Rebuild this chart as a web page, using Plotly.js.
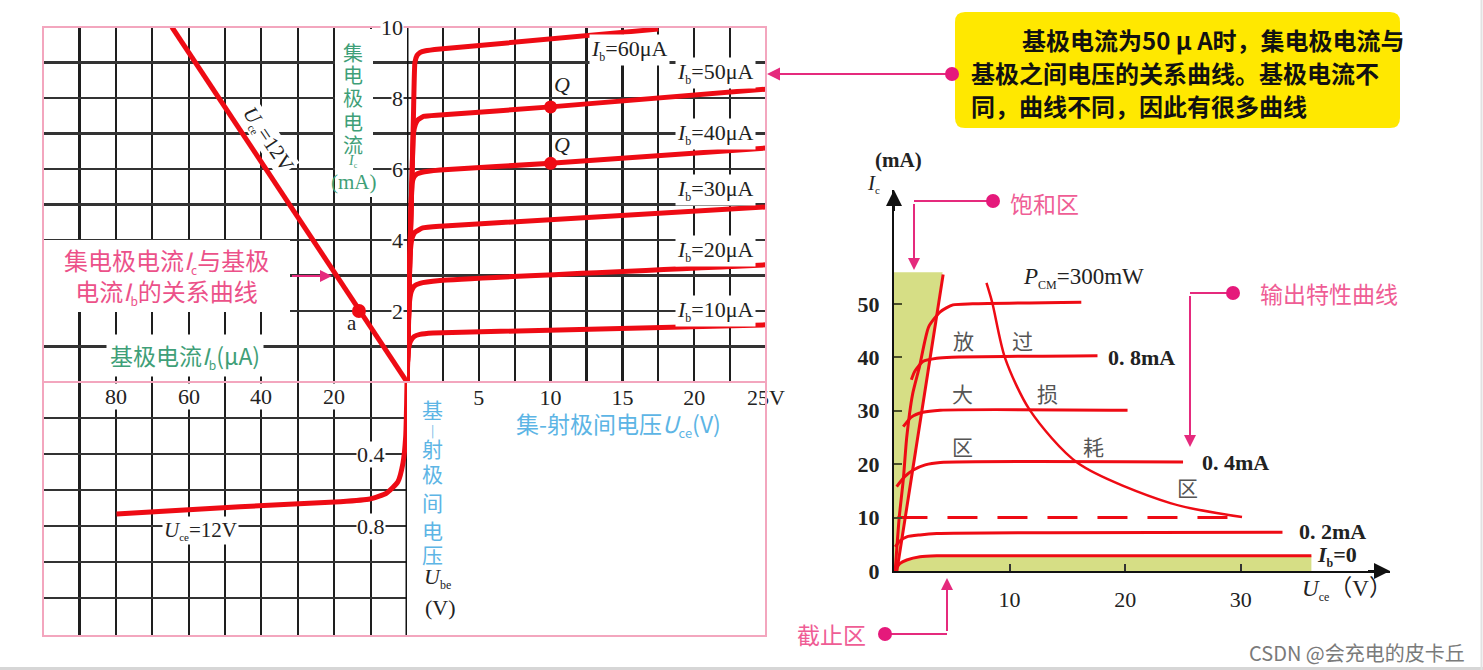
<!DOCTYPE html>
<html><head><meta charset="utf-8">
<script src="https://cdn.plot.ly/plotly-3.0.1.min.js"></script>
<style>html,body{margin:0;padding:0;background:#fff;}#chart{width:1483px;height:670px;}</style>
</head><body><div id="chart"></div>
<script>
// ================= DATA =================
// Left chart, upper-right quadrant: output characteristics Ic(mA) vs Uce(V)
const ibLevels = ['10','20','30','40','50','60'];
const uceIb10 = [0, 0.1, 0.25, 0.5, 0.9, 1.8, 25];
const icIb10  = [0, 0.9, 1.15, 1.28, 1.34, 1.38, 1.61];
const uceIb20 = [0, 0.07, 0.16, 0.3, 0.5, 0.9, 2.3, 25];
const icIb20  = [0, 1.1, 2.2, 2.55, 2.7, 2.78, 2.86, 3.3];
const uceIb30 = [0, 0.07, 0.2, 0.35, 0.55, 1.1, 2.3, 25];
const icIb30  = [0, 1.1, 3.5, 4.05, 4.22, 4.34, 4.39, 4.93];
const uceIb40 = [0, 0.07, 0.2, 0.35, 0.5, 0.7, 1.05, 2.3, 10, 25];
const icIb40  = [0, 1.1, 3.5, 5.6, 5.78, 5.86, 5.91, 5.97, 6.16, 6.59];
const uceIb50 = [0, 0.07, 0.2, 0.35, 0.45, 0.58, 0.75, 1.15, 2.3, 10, 25];
const icIb50  = [0, 1.1, 3.5, 5.8, 7.0, 7.25, 7.38, 7.48, 7.52, 7.75, 8.25];
const uceIb60 = [0, 0.07, 0.2, 0.35, 0.45, 0.55, 0.7, 0.9, 1.3, 2.3, 17.5];
const icIb60  = [0, 1.1, 3.5, 5.8, 7.5, 9.0, 9.2, 9.28, 9.33, 9.38, 9.94];
const qUce = [10, 10];
const qIc  = [7.75, 6.16];
// upper-left quadrant: Ic vs Ib (Uce = 12V)
const transferIb = [0, 64.6];
const transferIc = [0, 10];
const pointAIb = [13.2];
const pointAIc = [2.0];
// lower-left quadrant: input characteristic Ib(uA) vs Ube(V)
const inputIb  = [79.8, 45.9, 18.4, 10.2, 5.6, 2.5, 1.1, 0.36, 0.1, 0];
const inputUbe = [0.733, 0.693, 0.665, 0.65, 0.617, 0.554, 0.45, 0.304, 0.117, 0];
// tick labels
const uceTickVals = [5, 10, 15, 20, 25];
const uceTickText = ['5', '10', '15', '20', '25V'];
const ibTickVals = [80, 60, 40, 20];
const icTickVals = [10, 8, 6, 4, 2];
const ubeTickVals = [0.4, 0.8];

// Right chart: output characteristic regions (Uce V, Ic mA)
const rUceIb0 = [0.09, 0.5, 1.1, 2.25, 3.7, 36.1];
const rIcIb0  = [0.2, 1.4, 2.06, 2.68, 2.85, 2.85];
const rUce02 = [0.1, 0.5, 1.1, 2.25, 3.7, 33.6];
const rIc02  = [4.5, 5.6, 6.4, 6.75, 7.0, 7.25];
const rUce04 = [0.23, 0.95, 1.67, 2.7, 4.0, 25.0];
const rIc04  = [15.8, 17.7, 18.9, 19.85, 20.3, 20.4];
const rUce06 = [0.8, 1.5, 2.5, 4.0, 20.2];
const rIc06  = [27.0, 28.8, 29.7, 30.1, 30.1];
const rUce08 = [1.5, 1.8, 2.5, 3.7, 5.0, 17.6];
const rIc08  = [35.8, 37.4, 39.2, 39.8, 40.0, 40.3];
const rUce10 = [0.1, 0.45, 0.8, 1.1, 1.6, 2.2, 3.0, 4.0, 5.1, 6.8, 16.2];
const rIc10  = [0, 10, 17, 25, 33, 38.2, 45.7, 48.5, 49.8, 50.0, 50.3];
const rUceSat = [0.25, 4.25];
const rIcSat  = [0, 55.5];
const rUceSatFill = [0, 0, 4.2, 0.25];
const rIcSatFill  = [0, 55.9, 55.9, 0];
const rUceDash = [0.3, 29.2];
const rIcDash  = [10, 10];
const rUcePcm = [8.0, 8.5, 9.6, 11.75, 15.9, 23.9, 30.1];
const rIcPcm  = [53.9, 50.2, 39.9, 30.1, 20.2, 12.7, 10.1];
const rIcTicks = [0, 10, 20, 30, 40, 50];
const rUceTicks = [10, 20, 30];

// ================= STYLE / LAYOUT HELPERS =================
const W = 1483, H = 670;
const PX = v => v / W;
const PY = v => 1 - v / H;
const SERIF = '"Liberation Serif", "Noto Sans CJK SC", serif';
const CJK = '"Noto Sans CJK SC", sans-serif';
const RED = '#ee0b14';
const GREEN = '#3f9f78';
const BLUE = '#5db5e5';
const PINK_T = '#ec5189';
const PINK_C = '#e52a7d';
const BORDER = '#f3a6be';
const FILL = '#d6de85';
const sub = (t, px) => '<sub><span style="font-size:' + px + 'px">' + t + '</span></sub>';

const traces = [];
function line(x, y, xa, ya, color, width, extra) {
  traces.push(Object.assign({x, y, xaxis: xa, yaxis: ya, mode: 'lines',
    line: {color, width}, cliponaxis: false, hoverinfo: 'skip'}, extra || {}));
}
// left chart vertical axis (Uce = 0)
line([0, 0], [0, 10], 'x', 'y', '#111', 3);
line([0, 0], [0, 1.411], 'x3', 'y3', '#111', 3);
// output curves
const outU = [uceIb10, uceIb20, uceIb30, uceIb40, uceIb50, uceIb60];
const outI = [icIb10, icIb20, icIb30, icIb40, icIb50, icIb60];
outU.forEach((u, i) => line(u, outI[i], 'x', 'y', RED, 5, {line: {color: RED, width: 5, shape: 'spline', smoothing: 0.4}}));
traces.push({x: qUce, y: qIc, xaxis: 'x', yaxis: 'y', mode: 'markers', marker: {color: RED, size: 13}, hoverinfo: 'skip'});
// transfer line
line(transferIb, transferIc, 'x2', 'y2', RED, 5);
traces.push({x: pointAIb, y: pointAIc, xaxis: 'x2', yaxis: 'y2', mode: 'markers', marker: {color: RED, size: 14}, hoverinfo: 'skip'});
// input curve
line(inputIb, inputUbe, 'x3', 'y3', RED, 5, {line: {color: RED, width: 5, shape: 'spline', smoothing: 0.5}});

// right chart
traces.push({x: rUceSatFill, y: rIcSatFill, xaxis: 'x4', yaxis: 'y4', mode: 'lines', fill: 'toself',
  fillcolor: FILL, line: {width: 0}, hoverinfo: 'skip'});
traces.push({x: rUceIb0, y: rIcIb0, xaxis: 'x4', yaxis: 'y4', mode: 'lines', fill: 'tozeroy',
  fillcolor: FILL, line: {color: RED, width: 3, shape: 'spline', smoothing: 0.6}, hoverinfo: 'skip'});
[[rUce02, rIc02], [rUce04, rIc04], [rUce06, rIc06], [rUce08, rIc08], [rUce10, rIc10]].forEach(p =>
  line(p[0], p[1], 'x4', 'y4', RED, 3, {line: {color: RED, width: 3, shape: 'spline', smoothing: 0.6}}));
line(rUceSat, rIcSat, 'x4', 'y4', RED, 3);
line(rUceDash, rIcDash, 'x4', 'y4', RED, 3, {line: {color: RED, width: 3, dash: '30px,20px'}});
line(rUcePcm, rIcPcm, 'x4', 'y4', RED, 2.5, {line: {color: RED, width: 2.5, shape: 'spline', smoothing: 0.8}});

const gridX = {showgrid: true, gridcolor: '#1e1e1e', gridwidth: 2.2, zeroline: false, showline: false, ticks: ''};
const gridY = {showgrid: true, gridcolor: '#333', gridwidth: 2.6, zeroline: false, showline: false, ticks: '', showticklabels: false};

const ibGrid = [10, 20, 30, 40, 50, 60, 70, 80, 90];
const layout = {
  width: W, height: H, margin: {l: 0, r: 0, t: 0, b: 0},
  paper_bgcolor: 'white', plot_bgcolor: 'white', showlegend: false,
  xaxis: Object.assign({}, gridX, {domain: [PX(407), PX(766)], range: [0, 25], anchor: 'y',
    tickvals: [2.5, 5, 7.5, 10, 12.5, 15, 17.5, 20, 22.5, 25],
    ticktext: [' ', uceTickText[0], ' ', uceTickText[1], ' ', uceTickText[2], ' ', uceTickText[3], ' ', uceTickText[4]],
    tickfont: {family: SERIF, size: 22, color: '#222'}, ticklabelstandoff: 0}),
  yaxis: Object.assign({}, gridY, {domain: [PY(382), PY(27)], range: [0, 10], anchor: 'x', tickvals: [1,2,3,4,5,6,7,8,9]}),
  xaxis2: Object.assign({}, gridX, {domain: [PX(43), PX(407)], range: [100, 0], anchor: 'y2', tickvals: ibGrid, showticklabels: false}),
  yaxis2: Object.assign({}, gridY, {domain: [PY(382), PY(27)], range: [0, 10], anchor: 'x2', tickvals: [1,2,3,4,5,6,7,8,9]}),
  xaxis3: Object.assign({}, gridX, {domain: [PX(43), PX(407)], range: [100, 0], anchor: 'y3', tickvals: ibGrid, showticklabels: false}),
  yaxis3: Object.assign({}, gridY, {domain: [PY(636), PY(382)], range: [1.411, 0], anchor: 'x3', tickvals: [0.2, 0.4, 0.6, 0.8, 1.0, 1.2]}),
  xaxis4: {domain: [PX(894), PX(1390)], range: [0, 42.9], anchor: 'y4', showgrid: false, zeroline: false,
    showline: true, linecolor: '#111', linewidth: 2, ticks: 'inside', ticklen: 7, tickwidth: 2, tickcolor: '#333',
    tickvals: rUceTicks, tickfont: {family: SERIF, size: 22, color: '#222'}, ticklabelstandoff: 8},
  yaxis4: {domain: [PY(571), PY(190)], range: [0, 71.3], anchor: 'x4', showgrid: false, zeroline: false,
    showline: true, linecolor: '#111', linewidth: 2, ticks: 'inside', ticklen: 8, tickwidth: 2, tickcolor: '#4a4f2a',
    tickvals: rIcTicks, tickfont: {family: SERIF, size: 22, color: '#222', weight: 'bold'}, ticklabelstandoff: 8},
  shapes: [], annotations: []
};
const S = layout.shapes, A = layout.annotations;
function pline(x0, y0, x1, y1, color, width, layer) {
  S.push({type: 'line', xref: 'paper', yref: 'paper', x0: PX(x0), y0: PY(y0), x1: PX(x1), y1: PY(y1),
    line: {color, width}, layer: layer || 'above'});
}
function prect(x0, y0, x1, y1, fill, lineColor, lw, layer) {
  S.push({type: 'rect', xref: 'paper', yref: 'paper', x0: PX(x0), y0: PY(y1), x1: PX(x1), y1: PY(y0),
    fillcolor: fill, line: {color: lineColor || 'rgba(0,0,0,0)', width: lw || 0}, layer: layer || 'above'});
}
function dot(cx, cy, r, color) {
  S.push({type: 'circle', xref: 'paper', yref: 'paper', x0: PX(cx - r), x1: PX(cx + r), y0: PY(cy + r), y1: PY(cy - r),
    fillcolor: color, line: {width: 0}, layer: 'above'});
}
function ptext(text, x, y, font, extra) {
  A.push(Object.assign({xref: 'paper', yref: 'paper', x: PX(x), y: PY(y), text, showarrow: false, font,
    xanchor: 'center', yanchor: 'middle'}, extra || {}));
}
function arrow(tx, ty, ax, ay, color, width, size) {
  A.push({xref: 'paper', yref: 'paper', x: PX(tx), y: PY(ty), ax, ay, text: ' ', showarrow: true,
    arrowhead: 2, arrowsize: size || 1.3, arrowwidth: width || 1.5, arrowcolor: color, standoff: 0, font: {size: 2}});
}

// ---- left chart frame ----
prect(43, 27, 766, 636, 'rgba(0,0,0,0)', BORDER, 2);
pline(43, 382, 766, 382, BORDER, 2);
prect(335, 29, 373, 197, 'white');
prect(44, 240, 290, 312, 'white');

// tick labels (left chart)
const numFont = {family: SERIF, size: 22, color: '#222'};
icTickVals.forEach(v => A.push({xref: 'x', yref: 'y', x: 0, y: v, text: String(v), showarrow: false,
  xanchor: 'right', yanchor: 'middle', xshift: -3, font: numFont, bgcolor: 'white', borderpad: 0}));
ubeTickVals.forEach(v => A.push({xref: 'x3', yref: 'y3', x: 0, y: v, text: v.toFixed(1), showarrow: false,
  xanchor: 'right', yanchor: 'middle', xshift: -21, font: numFont, bgcolor: 'white', borderpad: 0}));
ibTickVals.forEach(v => A.push({xref: 'x3', yref: 'paper', x: v, y: PY(397), text: String(v), showarrow: false,
  xanchor: 'center', yanchor: 'middle', font: numFont, bgcolor: 'white', borderpad: 0}));

// curve labels
const lblPos = [[21.45, 2.0], [21.45, 3.69], [21.45, 5.41], [21.45, 7.0], [21.45, 8.70], [15.5, 9.35]];
ibLevels.forEach((lv, i) => A.push({xref: 'x', yref: 'y', x: lblPos[i][0], y: lblPos[i][1],
  text: '<i>I</i>' + sub('b', 12) + '=' + lv + 'μA', showarrow: false, font: {family: SERIF, size: 22, color: '#222'},
  bgcolor: 'white', borderpad: 1}));
[[10.8, 8.37], [10.8, 6.68]].forEach(p => A.push({xref: 'x', yref: 'y', x: p[0], y: p[1], text: '<i>Q</i>',
  showarrow: false, font: {family: SERIF, size: 22, color: '#222'}}));
A.push({xref: 'x2', yref: 'y2', x: 15.1, y: 1.66, text: 'a', showarrow: false, font: {family: SERIF, size: 21, color: '#222'}});
A.push({xref: 'x2', yref: 'y2', x: 38.2, y: 6.82, text: '<i>U</i>' + sub('ce', 11) + '=12V', textangle: 56, showarrow: false,
  font: {family: SERIF, size: 21, color: '#222'}, bgcolor: 'white', borderpad: 0});
ptext('<i>U</i>' + sub('ce', 11) + '=12V', 200, 530, {family: SERIF, size: 21, color: '#222'}, {bgcolor: 'white', borderpad: 1});

// green Ic title (vertical)
['集', '电', '极', '电', '流'].forEach((c, i) => ptext(c, 353, [52, 74, 97, 121, 144][i], {family: CJK, size: 20, color: GREEN}));
ptext('<i>I</i>' + sub('c', 8), 353, 162, {family: SERIF, size: 14, color: GREEN});
ptext('(mA)', 354, 182, {family: SERIF, size: 21, color: GREEN});
// green Ib title
ptext('基极电流<i>I</i>' + sub('b', 12) + '(μA)', 185, 355, {family: CJK, size: 23, color: GREEN}, {bgcolor: 'white', borderpad: 3});
// pink annotation
ptext('集电极电流<i>I</i>' + sub('c', 12) + '与基极<br>电流<i>I</i>' + sub('b', 12) + '的关系曲线', 166, 275, {family: CJK, size: 24, color: PINK_T});
arrow(332, 276, -42, 0, PINK_C, 2, 1.2);
// blue labels
['基', '|', '射', '极', '间', '电', '压'].forEach((c, i) => ptext(c, 432, [409, 430, 448, 473, 502, 530, 554][i],
  {family: CJK, size: i === 1 ? 12 : 21, color: BLUE}));
ptext('<i>U</i>' + sub('be', 12), 437, 578, {family: SERIF, size: 22, color: '#222'});
ptext('(V)', 440, 607, {family: SERIF, size: 22, color: '#222'});
ptext('集-射极间电压<i>U</i>' + sub('ce', 13) + '(V)', 618, 424, {family: CJK, size: 23, color: BLUE});

// ---- yellow callout ----
(function () {
  const x0 = 955, y0 = 12, x1 = 1400, y1 = 128, r = 10;
  const P = (x, y) => PX(x) + ',' + PY(y);
  const path = 'M' + P(x0 + r, y0) + ' L' + P(x1 - r, y0) + ' Q' + P(x1, y0) + ' ' + P(x1, y0 + r) +
    ' L' + P(x1, y1 - r) + ' Q' + P(x1, y1) + ' ' + P(x1 - r, y1) + ' L' + P(x0 + r, y1) + ' Q' + P(x0, y1) + ' ' + P(x0, y1 - r) +
    ' L' + P(x0, y0 + r) + ' Q' + P(x0, y0) + ' ' + P(x0 + r, y0) + ' Z';
  S.push({type: 'path', xref: 'paper', yref: 'paper', path, fillcolor: '#ffe800', line: {width: 0}, layer: 'above'});
})();
const boxFont = {family: CJK, size: 24, color: '#111', weight: 'bold'};
ptext('基极电流为50 μ A时，集电极电流与', 1020, 40, boxFont, {xanchor: 'left'});
ptext('基极之间电压的关系曲线。基极电流不', 969, 73, boxFont, {xanchor: 'left'});
ptext('同，曲线不同，因此有很多曲线', 969, 105, boxFont, {xanchor: 'left'});
pline(778, 74, 952, 74, PINK_C, 2);
arrow(767, 74, 22, 0, PINK_C, 2, 1.3);
dot(952, 74, 7, '#e5197b');

// ---- right chart labels ----
ptext('(mA)', 898, 160, {family: SERIF, size: 21, color: '#222', weight: 'bold'});
ptext('<i>I</i>' + sub('c', 11), 873, 184, {family: SERIF, size: 21, color: '#222'});
A.push({xref: 'x4', yref: 'y4', x: 0, y: 71.3, ax: 0, ay: 24, text: ' ', font: {size: 2}, showarrow: true, arrowhead: 2,
  arrowsize: 1.6, arrowwidth: 2, arrowcolor: '#111', standoff: 0});
A.push({xref: 'x4', yref: 'y4', x: 42.9, y: 0, ax: -24, ay: 0, text: ' ', font: {size: 2}, showarrow: true, arrowhead: 2,
  arrowsize: 1.6, arrowwidth: 2, arrowcolor: '#111', standoff: 0});
ptext('<i>P</i>' + sub('CM', 12) + '=300mW', 1083, 278, {family: SERIF, size: 23, color: '#222'});
const zoneFont = {family: CJK, size: 21, color: '#555'};
ptext('放', 963, 340, zoneFont); ptext('过', 1022, 340, zoneFont);
ptext('大', 962, 393, zoneFont); ptext('损', 1047, 393, zoneFont);
ptext('区', 962, 446, zoneFont); ptext('耗', 1093, 446, zoneFont);
ptext('区', 1187, 487, zoneFont);
const curveLblFont = {family: SERIF, size: 22, color: '#222', weight: 'bold'};
ptext('0. 8mA', 1106, 357, curveLblFont, {xanchor: 'left'});
ptext('0. 4mA', 1200, 462, curveLblFont, {xanchor: 'left'});
ptext('0. 2mA', 1297, 531, curveLblFont, {xanchor: 'left'});
ptext('<i>I</i>' + sub('b', 12) + '=0', 1315, 556, curveLblFont, {xanchor: 'left'});
ptext('<i>U</i>' + sub('ce', 12) + '（V）', 1300, 590, {family: SERIF, size: 23, color: '#222'}, {xanchor: 'left'});
// pink callouts
const calloutFont = {family: CJK, size: 23, color: '#ef5d95'};
pline(914, 201, 993, 201, PINK_C, 2); arrow(914, 270, 0, -69, PINK_C, 2, 1.2); dot(993, 201, 7, '#e5197b');
ptext('饱和区', 1044, 203, calloutFont);
pline(1190, 293, 1233, 293, PINK_C, 2); arrow(1190, 447, 0, -154, PINK_C, 2, 1.2); dot(1233, 293, 7, '#e5197b');
ptext('输出特性曲线', 1329, 293, calloutFont);
pline(885, 634, 947, 634, PINK_C, 2); arrow(947, 578, 0, 56, PINK_C, 2, 1.2); dot(885, 634, 7, '#e5197b');
ptext('截止区', 868, 634, calloutFont, {xanchor: 'right'});
// watermark and frame edge
ptext('CSDN @会充电的皮卡丘', 1467, 652, {family: CJK, size: 20, color: '#7a7a7a'}, {xanchor: 'right'});
pline(0, 668.5, 1483, 668.5, '#d6d6d6', 3);
pline(1481.5, 0, 1481.5, 670, '#e2e2e2', 2);

Plotly.newPlot('chart', traces, layout, {displayModeBar: false, staticPlot: true});
</script></body></html>
